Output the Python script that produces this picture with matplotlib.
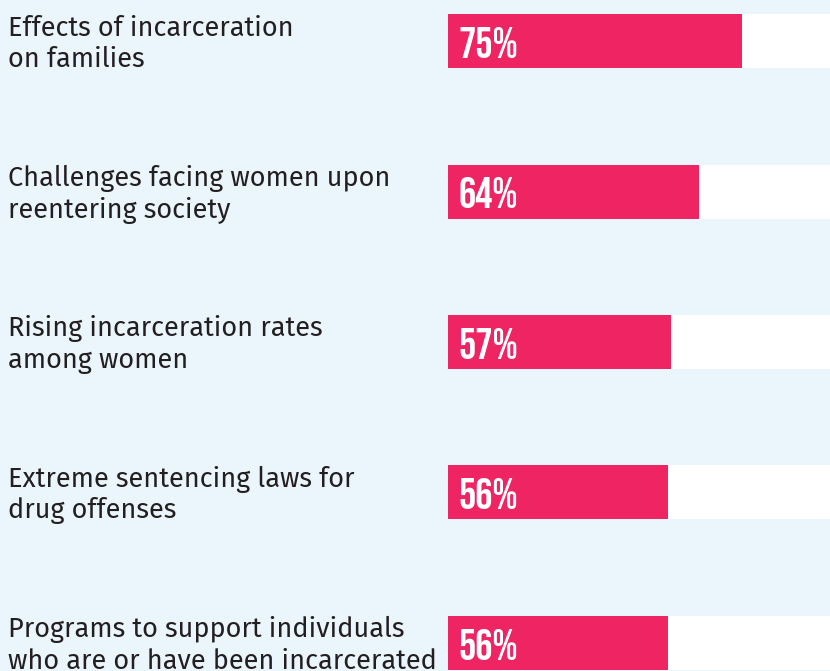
import matplotlib
matplotlib.use("Agg")
import matplotlib.pyplot as plt
from matplotlib.transforms import blended_transform_factory, offset_copy

categories = [
    "Effects of incarceration\non families",
    "Challenges facing women upon\nreentering society",
    "Rising incarceration rates\namong women",
    "Extreme sentencing laws for\ndrug offenses",
    "Programs to support individuals\nwho are or have been incarcerated",
]
values = [75, 64, 57, 56, 56]
value_labels = ["75%", "64%", "57%", "56%", "56%"]

BG = "#eaf5fc"
PINK = "#ee2463"
TEXT = "#231f20"
LABEL_FONT = ["Fira Sans", "Noto Sans", "DejaVu Sans"]
VALUE_FONT = ["Bebas Neue", "Oswald", "DejaVu Sans"]

W, H = 830, 671
fig = plt.figure(figsize=(W / 100, H / 100), dpi=100, facecolor=BG)
ax = fig.add_axes([448 / W, 0, 392 / W, 1])
ax.set_facecolor(BG)
for s in ax.spines.values():
    s.set_visible(False)
ax.set_xticks([])
ax.set_yticks([])

pos = list(range(len(categories)))
spacing = 150.5
top_c = 41
ax.set_xlim(0, 100)
ax.set_ylim((H - top_c) / spacing, -top_c / spacing)
bh = 54 / spacing

ax.barh(pos, [100] * len(pos), height=bh, color="white", zorder=1)
ax.barh(pos, values, height=bh, color=PINK, zorder=2)

trans_lab = blended_transform_factory(fig.transFigure, ax.transData)
for i, (cat, lab) in enumerate(zip(categories, value_labels)):
    lines = cat.split("\n")
    for j, line in enumerate(lines):
        t = offset_copy(trans_lab, fig=fig, x=0, y=(27 - 21.5 - 31.5 * j) * 0.72, units="points")
        ax.text(8 / W, i, line, transform=t, ha="left", va="baseline",
                fontsize=19.5, color=TEXT, family=LABEL_FONT)
    t2 = offset_copy(ax.transData, fig=fig, x=0, y=-17 * 0.72, units="points")
    ax.text(2.6, i, lab, transform=t2, ha="left", va="baseline",
            fontsize=31, color="white", family=VALUE_FONT)

fig.savefig("out.png", dpi=100, facecolor=BG)
